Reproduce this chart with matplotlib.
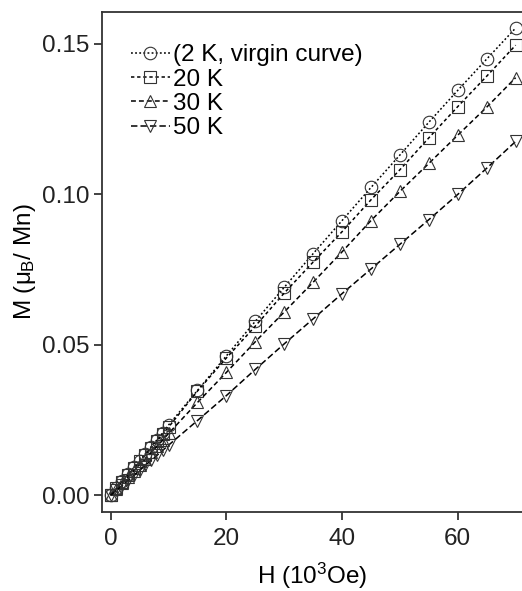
import numpy as np
import matplotlib.pyplot as plt

plt.rcParams['font.family'] = ['Liberation Sans', 'DejaVu Sans']
plt.rcParams['mathtext.fontset'] = 'custom'
plt.rcParams['mathtext.rm'] = 'Liberation Sans'
plt.rcParams['mathtext.it'] = 'Liberation Sans'

# field (10^3 Oe)
H = [0, 1, 2, 3, 4, 5, 6, 7, 8, 9, 10, 15, 20, 25, 30, 35, 40, 45, 50, 55, 60, 65, 70]

# magnetization (mu_B / Mn)
M_2K = [0.0, 0.0023, 0.0046, 0.0069, 0.0092, 0.0115, 0.0138, 0.0161, 0.0184, 0.0208, 0.0233,
        0.0348, 0.0463, 0.0578, 0.0691, 0.0803, 0.0913, 0.1023, 0.1131, 0.1240, 0.1346, 0.1450, 0.1553]
M_20K = [0.0, 0.0022, 0.0045, 0.0067, 0.0090, 0.0112, 0.0135, 0.0158, 0.0180, 0.0203, 0.0226,
         0.0346, 0.0456, 0.0562, 0.0672, 0.0775, 0.0876, 0.0982, 0.1082, 0.1188, 0.1292, 0.1393, 0.1496]
M_30K = [0.0, 0.0020, 0.0040, 0.0060, 0.0081, 0.0101, 0.0121, 0.0142, 0.0162, 0.0183, 0.0205,
         0.0308, 0.0408, 0.0510, 0.0609, 0.0708, 0.0809, 0.0913, 0.1010, 0.1103, 0.1197, 0.1290, 0.1388]
M_50K = [0.0, 0.0016, 0.0032, 0.0049, 0.0066, 0.0082, 0.0099, 0.0116, 0.0132, 0.0149, 0.0166,
         0.0248, 0.0331, 0.0418, 0.0503, 0.0586, 0.0670, 0.0752, 0.0834, 0.0916, 0.1000, 0.1087, 0.1176]

labels = ['(2 K, virgin curve)', '20 K', '30 K', '50 K']
series = [M_2K, M_20K, M_30K, M_50K]
markers = ['o', 's', '^', 'v']
styles = [(0, (1.2, 1.5)), (0, (2.2, 1.8)), (0, (3.2, 2)), (0, (4.2, 2))]

fig = plt.figure(figsize=(5.22, 5.91), dpi=100)
ax = fig.add_axes([0.196, 0.133, 0.804, 0.847])

for M, lab, mk, ls in zip(series, labels, markers, styles):
    ax.plot(H, M, linestyle=ls, color='black', linewidth=1.1,
            marker=mk, markersize=9, markerfacecolor='none',
            markeredgecolor='#333333', markeredgewidth=0.8, label=lab)

ax.set_xlim(-1.45, 71.1)
ax.set_ylim(-0.00575, 0.1607)
ax.set_xticks([0, 20, 40, 60])
ax.set_yticks([0.0, 0.05, 0.10, 0.15])
ax.set_yticklabels(['0.00', '0.05', '0.10', '0.15'])
ax.tick_params(direction='out', length=6, width=1.2, labelsize=17.5, colors='#222222')
ax.tick_params(axis='x', pad=5)
ax.tick_params(axis='y', pad=3)
ax.spines['right'].set_visible(False)
for s in ['left', 'top', 'bottom']:
    ax.spines[s].set_linewidth(1.3)
    ax.spines[s].set_color('#333333')

ax.set_xlabel('H (10$^3$Oe)', fontsize=17.5, labelpad=8)
ax.set_ylabel('M ($\\mu_B$/ Mn)', fontsize=17.5, labelpad=3)

leg = ax.legend(loc='upper left', frameon=False, fontsize=17.5, handlelength=1.6,
                handletextpad=0.15, labelspacing=0.1, borderaxespad=0.0,
                bbox_to_anchor=(0.045, 0.955))

fig.savefig('out.png', dpi=100)
